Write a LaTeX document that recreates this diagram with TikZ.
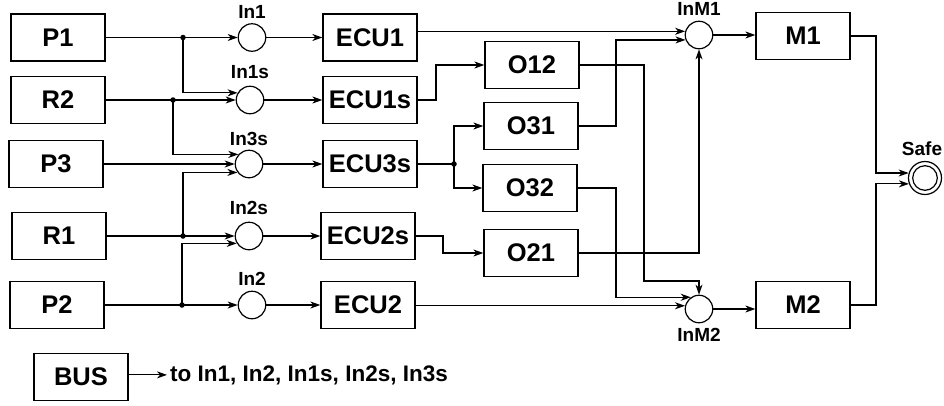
\documentclass[tikz,border=0pt]{standalone}
\usepackage{fontspec}
\setmainfont{Liberation Sans}
\usetikzlibrary{arrows.meta,calc}
\begin{document}
\begin{tikzpicture}[x=1pt,y=-1pt,
  box/.style={draw,line width=1.3pt,minimum width=94pt,minimum height=47pt,inner sep=0pt,
    font=\fontsize{25.5}{28}\selectfont\bfseries},
  pl/.style={draw,circle,line width=1.2pt,minimum size=27.5pt,inner sep=0pt},
  lbl/.style={font=\fontsize{19}{21}\selectfont\bfseries,inner sep=0pt},
  ln/.style={line width=1.2pt},
  arr/.style={line width=1.2pt,-{Stealth[length=10pt,width=7pt,inset=3pt]}},
  jdot/.style={circle,fill,inner sep=0pt,minimum size=5.5pt}]
\useasboundingbox (0,0) rectangle (944,405);

% sources
\node[box] (P1) at (58,37.5) {P1};
\node[box] (R2) at (58,100) {R2};
\node[box] (P3) at (56,164) {P3};
\node[box] (R1) at (59,236) {R1};
\node[box] (P2) at (57,305) {P2};
\node[box] (BUS) at (81,377) {BUS};
\node[anchor=base west,inner sep=3pt,font=\fontsize{22.5}{24}\selectfont\bfseries] (bustext) at (167,381) {to In1, In2, In1s, In2s, In3s};

% input places
\node[pl] (In1) at (252,37.5) {};
\node[pl] (In1s) at (250,100) {};
\node[pl] (In3s) at (249,164) {};
\node[pl] (In2s) at (249,236) {};
\node[pl] (In2) at (252,305) {};
\node[lbl] (lIn1) at (252,12) {In1};
\node[lbl] (lIn1s) at (250,72.5) {In1s};
\node[lbl] (lIn3s) at (249,138.5) {In3s};
\node[lbl] (lIn2s) at (249,207.5) {In2s};
\node[lbl] (lIn2) at (252,279) {In2};

% ECUs
\node[box] (ECU1) at (370,37.5) {ECU1};
\node[box] (ECU1s) at (370,100) {ECU1s};
\node[box] (ECU3s) at (370,164) {ECU3s};
\node[box] (ECU2s) at (368,236) {ECU2s};
\node[box] (ECU2) at (368,305) {ECU2};

% O boxes
\node[box] (O12) at (532,65) {O12};
\node[box] (O31) at (531,126) {O31};
\node[box] (O32) at (530,188) {O32};
\node[box] (O21) at (531,253) {O21};

% motor places and motors
\node[pl] (InM1) at (699,35) {};
\node[pl] (InM2) at (699,309) {};
\node[lbl] (lInM1) at (699,9) {InM1};
\node[lbl] (lInM2) at (699,335) {InM2};
\node[box] (M1) at (803,36) {M1};
\node[box] (M2) at (803,305) {M2};

% safe
\node[pl,minimum size=33pt] (Safe) at (925,178) {};
\draw[ln] (Safe.center) circle[radius=12.3pt];
\node[lbl] (lSafe) at (922,149) {Safe};

% junctions and routing coordinates
\node[jdot] (j1) at (183,37.5) {};
\node[jdot] (j2) at (173,100) {};
\node[jdot] (j4) at (183,236) {};
\node[jdot] (j5) at (182,305) {};
\node[jdot] (j6) at (454,164) {};
\coordinate (v1) at (436,0);
\coordinate (v2) at (443,0);
\coordinate (vA) at (616,0);
\coordinate (vB) at (644,0);
\coordinate (hC) at (0,281);
\coordinate (vS) at (876,0);

% inputs
\draw[arr] (P1) -- (In1);
\draw[arr] (j1.center) |- (In1s.150);
\draw[arr] (R2) -- (In1s);
\draw[arr] (j2.center) |- (In3s.138);
\draw[arr] (P3) -- (In3s);
\draw[arr] (j4.center) |- (In3s.216);
\draw[arr] (R1) -- (In2s);
\draw[arr] (j5.center) |- (In2s.211);
\draw[arr] (P2) -- (In2);

% places to ECUs
\draw[arr] (In1) -- (ECU1);
\draw[arr] (In1s) -- (ECU1s);
\draw[arr] (In3s) -- (ECU3s);
\draw[arr] (In2s) -- (ECU2s);
\draw[arr] (In2) -- (ECU2);

% ECUs to O boxes
\draw[arr] (ECU1s.east) -- (ECU1s.east -| v1) |- (O12.west);
\draw[ln] (ECU3s.east) -- (j6.center);
\draw[arr] (j6.center) |- (O31.west);
\draw[arr] (j6.center) |- (O32.west);
\draw[arr] (ECU2s.east) -- (ECU2s.east -| v2) |- (O21.west);

% to InM1
\draw[arr] (ECU1.east |- InM1.165) -- (InM1.165);
\draw[arr] (O31.east) -- (O31.east -| vA) |- (InM1.200);
\draw[arr] (O21.east) -| (InM1.south);

% to InM2
\draw[arr] (O12.east) -- (O12.east -| vB) -- (vB |- hC) -| (InM2.north);
\draw[arr] (O32.east) -- (O32.east -| vA) |- (InM2.125);
\draw[arr] (ECU2.east |- InM2.167) -- (InM2.167);

% motors
\draw[arr] (InM1) -- (InM1 -| M1.west);
\draw[arr] (InM2) -- (InM2 -| M2.west);
\draw[arr] (M1.east) -- (M1.east -| vS) |- (Safe.163);
\draw[arr] (M2.east) -- (M2.east -| vS) |- (Safe.200);

% bus
\draw[arr] (BUS.east |- bustext.west) -- (bustext.west);
\end{tikzpicture}
\end{document}
